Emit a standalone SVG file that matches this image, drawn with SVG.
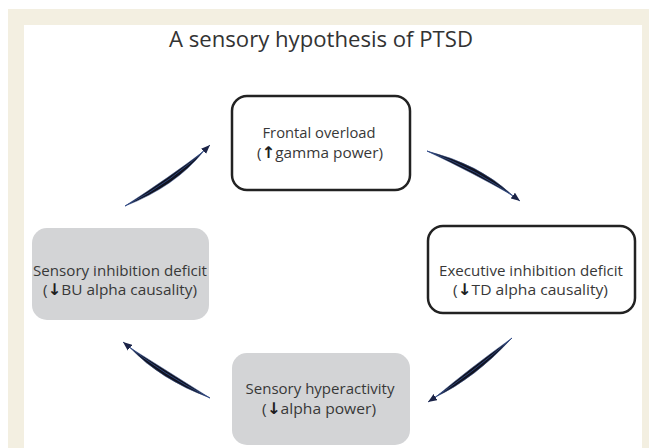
<svg xmlns="http://www.w3.org/2000/svg" width="649" height="448" viewBox="0 0 649 448">
  <defs>
    <style>
      .lbl { font-family: "Open Sans", "Noto Sans", "Liberation Sans", sans-serif; font-size: 15px; fill: #383838; text-anchor: middle; }
      .title { font-family: "Open Sans", "Noto Sans", "Liberation Sans", sans-serif; font-size: 22.5px; fill: #333333; text-anchor: middle; }
      .arr { font-family: "DejaVu Sans", sans-serif; font-weight: bold; font-size: 16px; fill: #1e1e1e; }
      .box-white { fill: #ffffff; stroke: #222222; stroke-width: 2.5; }
      .box-gray { fill: #d3d4d6; stroke: none; }
      .body { fill: #111320; stroke: #3b5796; stroke-width: 0.5; }
      .spine { fill: none; stroke: #2f4a86; stroke-width: 0.9; marker-end: url(#head); }
    </style>
    <marker id="head" viewBox="0 0 10 8" refX="10" refY="4" markerWidth="9" markerHeight="7.5" markerUnits="userSpaceOnUse" orient="auto">
      <path d="M0,0 L10,4 L0,8 Z" fill="#1b2347"/>
    </marker>
  </defs>

  <rect x="0" y="0" width="649" height="448" fill="#ffffff"/>
  <rect x="8" y="9" width="641" height="439" fill="#f3efe1"/>
  <rect x="24" y="25" width="618" height="423" fill="#ffffff"/>

  <text class="title" x="321" y="47" textLength="304" lengthAdjust="spacingAndGlyphs">A sensory hypothesis of PTSD</text>

  <g id="connectors">
    <g id="c1">
      <path class="body" d="M125,206 Q175.4,186.5 203.6,151.3 Q169.0,177.5 125,206 Z"/>
      <path class="spine" d="M125,206 Q172.2,182 210,145"/>
    </g>
    <g id="c2">
      <path class="body" d="M427,151 Q479.9,164.2 512.8,195.6 Q474.7,173.8 427,151 Z"/>
      <path class="spine" d="M427,151 Q477.3,169 520,201"/>
    </g>
    <g id="c3">
      <path class="body" d="M512,338 Q475.7,377.6 435.6,397.1 Q469.1,368.8 512,338 Z"/>
      <path class="spine" d="M512,338 Q472.4,373.2 428,402"/>
    </g>
    <g id="c4">
      <path class="body" d="M210,398 Q160.3,379.6 130,347.7 Q166.3,370.4 210,398 Z"/>
      <path class="spine" d="M210,398 Q163.3,375 123,342"/>
    </g>
  </g>

  <g id="frontal-overload">
    <rect class="box-white" x="232" y="96" width="178" height="94" rx="15" ry="15"/>
    <text class="lbl" x="319" y="138" textLength="113" lengthAdjust="spacingAndGlyphs">Frontal overload</text>
    <text class="lbl" x="320" y="158" textLength="126" lengthAdjust="spacingAndGlyphs">(<tspan class="arr">↑</tspan>gamma power)</text>
  </g>

  <g id="executive-inhibition-deficit">
    <rect class="box-white" x="428" y="226" width="207" height="87" rx="15" ry="15"/>
    <text class="lbl" x="531" y="276" textLength="184" lengthAdjust="spacingAndGlyphs">Executive inhibition deficit</text>
    <text class="lbl" x="530.5" y="295" textLength="155" lengthAdjust="spacingAndGlyphs">(<tspan class="arr">↓</tspan>TD alpha causality)</text>
  </g>

  <g id="sensory-hyperactivity">
    <rect class="box-gray" x="232" y="353" width="178" height="92" rx="15" ry="15"/>
    <text class="lbl" x="320" y="394" textLength="149" lengthAdjust="spacingAndGlyphs">Sensory hyperactivity</text>
    <text class="lbl" x="319" y="414" textLength="114" lengthAdjust="spacingAndGlyphs">(<tspan class="arr">↓</tspan>alpha power)</text>
  </g>

  <g id="sensory-inhibition-deficit">
    <rect class="box-gray" x="32" y="228" width="177" height="92" rx="15" ry="15"/>
    <text class="lbl" x="120" y="276" textLength="174" lengthAdjust="spacingAndGlyphs">Sensory inhibition deficit</text>
    <text class="lbl" x="120" y="295" textLength="154" lengthAdjust="spacingAndGlyphs">(<tspan class="arr">↓</tspan>BU alpha causality)</text>
  </g>
</svg>
